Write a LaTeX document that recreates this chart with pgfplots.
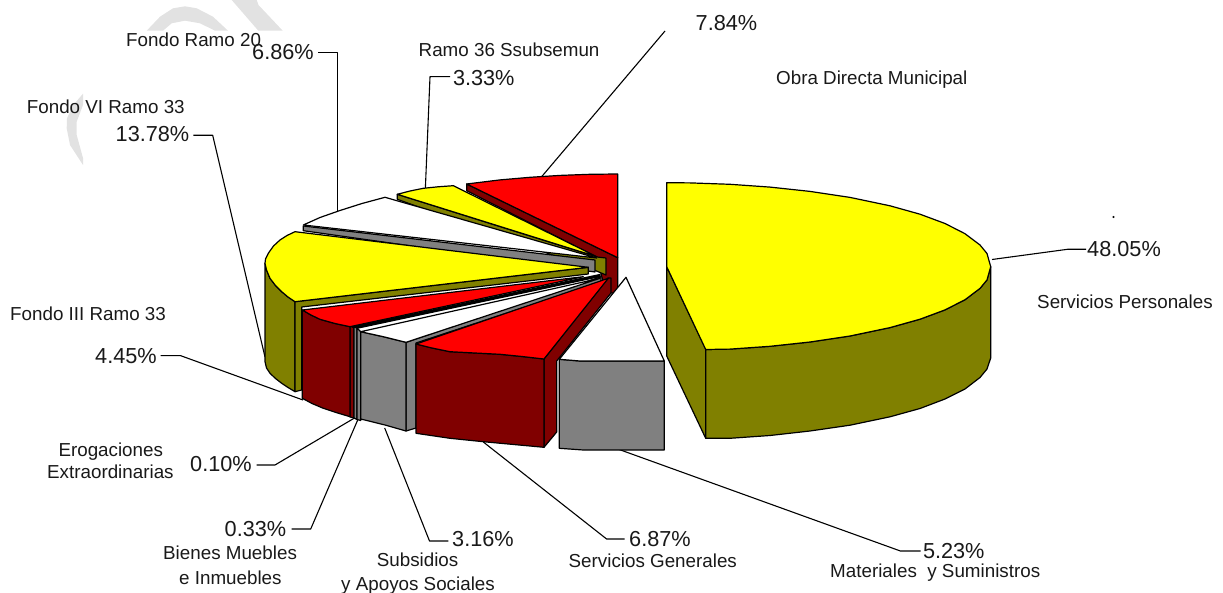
\documentclass[border=0pt]{standalone}
\usepackage{pgfplots}
\pgfplotsset{compat=1.18}
\usepackage{fontspec}
\setmainfont{Liberation Sans}
\definecolor{pY}{HTML}{FFFF00}
\definecolor{pR}{HTML}{FF0000}
\definecolor{pD}{HTML}{800000}
\definecolor{pO}{HTML}{808000}
\definecolor{pG}{HTML}{808080}
\definecolor{pW}{HTML}{E2E2E2}
\newcommand{\nm}[3]{\node[anchor=base west,inner sep=0pt,text=black!90] at (axis cs:#1,#2) {\fontsize{18.8}{20}\selectfont #3};}
\newcommand{\pc}[3]{\node[anchor=base west,inner sep=0pt,text=black!90] at (axis cs:#1,#2) {\fontsize{21.7}{24}\selectfont #3};}
\pgfplotsset{
  face/.style={fill=#1,draw=black,line width=1.2pt,line join=round},
  wm/.style={fill=pW,draw=none},
  lead/.style={draw=black,line width=1.1pt,line join=round,mark=none}
}
\begin{document}
\begin{tikzpicture}
\path[use as bounding box] (0,0) rectangle (1223pt,593pt);
\begin{axis}[
  at={(0,0)},anchor=south west,
  scale only axis,width=1223pt,height=593pt,
  xmin=0,xmax=1223,ymin=0,ymax=593,y dir=reverse,
  hide axis,clip=true]
% watermark
\addplot[wm] coordinates {(146.7,30.7)(160,16.7)(173,8.3)(185,6.3)(196.7,8.3)(213,16.7)(228,30.7)(215,30.7)(200,23.3)(185,20.7)(171.7,23.3)(163,30.7)} -- cycle;
\addplot[wm] coordinates {(231.7,0)(256.7,0)(258.5,5)(282.7,30.7)(258.3,30.7)} -- cycle;
\addplot[wm] coordinates {(83,93.7)(73.3,105)(67,118.3)(66.7,128.3)(70,145)(83,165)(83,158)(76.7,135)(76.7,121.7)(83,105)} -- cycle;
% leaders
\addplot[lead] coordinates {(318,52.3)(337.3,52.3)(337.3,212)};
\addplot[lead] coordinates {(193.3,135.3)(212.7,135.3)(265,357)};
\addplot[lead] coordinates {(450,76.7)(430,76.7)(425.3,190)};
\addplot[lead] coordinates {(665,31)(541.4,177)};
\addplot[lead] coordinates {(1086,249.3)(1067.5,249.3)(992,259.5)};
\addplot[lead] coordinates {(160.7,355.7)(180.7,355.7)(303,400)};
\addplot[lead] coordinates {(256.7,465)(275,465)(354,418.3)};
\addplot[lead] coordinates {(291.7,529)(310.7,529)(357.7,420)};
\addplot[lead] coordinates {(448.3,541)(429.5,541)(384.7,428)};
\addplot[lead] coordinates {(624.6,539)(606.6,539)(483.3,442)};
\addplot[lead] coordinates {(920.5,551)(900.4,551)(617.8,449)};
% Servicios Personales
\addplot[face=pO] coordinates {(666.7,266.7)(705.7,349)(705.7,438.3)(666.7,356)} -- cycle;
\addplot[face=pO] coordinates {(705.7,349.5)(730,349.1)(770,346.3)(810,342)(850,336)(890,327.6)(920,319.2)(945,309.9)(965,299.7)(980,288.4)(987,279.9)(990.7,266.7)(990.7,358)(987,369)(980,377.5)(965,389)(945,399)(920,408.5)(890,416.8)(850,425.2)(810,431)(770,435.5)(730,438.3)(705.7,438.3)} -- cycle;
\addplot[face=pY] coordinates {(666.7,182.7)(690,182.9)(730,184.3)(770,187.1)(810,191.4)(850,197.4)(890,205.8)(920,214.2)(945,223.5)(965,233.7)(980,245)(987,253.5)(990.7,266.7)(987,279.9)(980,288.4)(965,299.7)(945,309.9)(920,319.2)(890,327.6)(850,336)(810,342)(770,346.3)(730,349.1)(705.7,349.5)(666.7,266.7)} -- cycle;
% Obra Directa Municipal
\addplot[face=pD] coordinates {(466.7,184)(617.7,257.7)(617.7,293)(606,293)(596.7,257)(466.7,190.7)} -- cycle;
\addplot[face=pR] coordinates {(617.7,174)(590,174.3)(560,175.4)(530,177.3)(500,179.9)(466.7,184)(617.7,257.7)} -- cycle;
% Ramo 36
\addplot[face=pO] coordinates {(397.3,194.3)(597,257)(606,258)(606,275)(594,270)(397.3,199.3)} -- cycle;
\addplot[face=pY] coordinates {(397.3,194.3)(410,191)(423.3,188.3)(438,186.8)(453.3,185.7)(596.7,256.7)} -- cycle;
% Fondo Ramo 20
\addplot[face=pG] coordinates {(303.3,226)(595,260)(595,272)(303.3,230.7)} -- cycle;
\addplot[face=white] coordinates {(303.3,225)(320,217.5)(340,210.5)(362,203.5)(385,197.3)(596.7,258)} -- cycle;
% Fondo VI Ramo 33
\addplot[face=pO] coordinates {(265,263.3)(266.5,270)(270,278.3)(275.5,285.5)(281.7,291.7)(288,297)(295,301.7)(295,391.7)(288,387.5)(281.7,383.3)(275.5,378.5)(270,373.3)(266.5,368)(265,361.7)} -- cycle;
\addplot[face=pO] coordinates {(295,301.7)(588.3,267.3)(588.3,274)(301.7,307)(301.7,390)(295,391.7)} -- cycle;
\addplot[face=pY] coordinates {(295,231.7)(287,235.5)(280,240)(273.5,246)(268.3,253.3)(265.5,259)(265,263.3)(266.5,270)(270,278.3)(275.5,285.5)(281.7,291.7)(288,297)(295,301.7)(588.3,267.3)} -- cycle;
% Fondo III Ramo 33
\addplot[face=pD] coordinates {(350,326.7)(354,326)(354,418)(350,417)} -- cycle;
\addplot[face=pD] coordinates {(302.3,310)(311,315)(320,319.3)(335,323.5)(350,326.7)(350,416.7)(336,412.5)(323.3,408.3)(312,403.5)(302.3,398.3)} -- cycle;
\addplot[face=pR] coordinates {(302.3,310)(311,315)(320,319.3)(335,323.5)(350,326.7)(583.3,276.7)} -- cycle;
% Erogaciones, Bienes Muebles
\addplot[face=black] coordinates {(352,327)(600,274.5)(600,276.5)(356,328.5)} -- cycle;
\addplot[face=pG] coordinates {(354,327)(357,328)(357,419.5)(354,418)} -- cycle;
\addplot[face=pG] coordinates {(357,328)(360.7,331.7)(360.7,420.5)(357,419.5)} -- cycle;
% Subsidios
\addplot[face=pG] coordinates {(406,342.3)(601,276.7)(601,282)(416,343)(416,428)(406,431)} -- cycle;
\addplot[face=pG] coordinates {(360.7,331.7)(383.3,336.7)(406,342.3)(406,431)(385,425)(360.7,419)} -- cycle;
\addplot[face=white] coordinates {(360.7,331.7)(383.3,336.7)(406,342.3)(600,278.3)} -- cycle;
% Servicios Generales
\addplot[face=pD] coordinates {(544,359)(608,278)(611,278)(611,293)(556.7,361)(556.7,432)(544,447.3)} -- cycle;
\addplot[face=pD] coordinates {(416,344)(432,348)(450,351.7)(475,353)(500,354.3)(522,356.5)(544,359)(544,447.3)(483.3,441.7)(450,438.3)(416,433.3)} -- cycle;
\addplot[face=pR] coordinates {(416,344)(432,348)(450,351.7)(475,353)(500,354.3)(522,356.5)(544,359)(608.3,278.3)} -- cycle;
% Materiales y Suministros
\addplot[face=pG] coordinates {(559.3,359.3)(580,361)(664.3,361)(664.3,450)(583.3,450)(559.3,448.3)} -- cycle;
\addplot[face=white] coordinates {(626,277.3)(559.3,359.3)(580,361)(664.3,361)} -- cycle;
% dot
\addplot[only marks,mark=*,mark size=0.9pt,color=black] coordinates {(1113.5,217)};
% labels
\nm{126}{47}{Fondo Ramo 20}
\pc{252}{59.3}{6.86\%}
\nm{26.7}{114}{Fondo VI Ramo 33}
\pc{115.5}{141.7}{13.78\%}
\nm{418.5}{57}{Ramo 36 Ssubsemun}
\pc{452.8}{86}{3.33\%}
\pc{695.5}{30.7}{7.84\%}
\nm{776}{85}{Obra Directa Municipal}
\pc{1087}{257}{48.05\%}
\nm{1037}{308.5}{Servicios Personales}
\nm{10}{321}{Fondo III Ramo 33}
\pc{95}{363.3}{4.45\%}
\nm{58.3}{456.7}{Erogaciones}
\nm{47}{478.7}{Extraordinarias}
\pc{190}{471.7}{0.10\%}
\pc{224.5}{536.7}{0.33\%}
\nm{163}{559.3}{Bienes Muebles}
\nm{179}{584}{e Inmuebles}
\pc{452}{546.7}{3.16\%}
\nm{376.6}{566.7}{Subsidios}
\nm{341}{590}{y Apoyos Sociales}
\pc{629}{546.7}{6.87\%}
\nm{568.5}{567.7}{Servicios Generales}
\pc{922.8}{558}{5.23\%}
\nm{830}{577.7}{Materiales\ \ y Suministros}
\end{axis}
\end{tikzpicture}
\end{document}
